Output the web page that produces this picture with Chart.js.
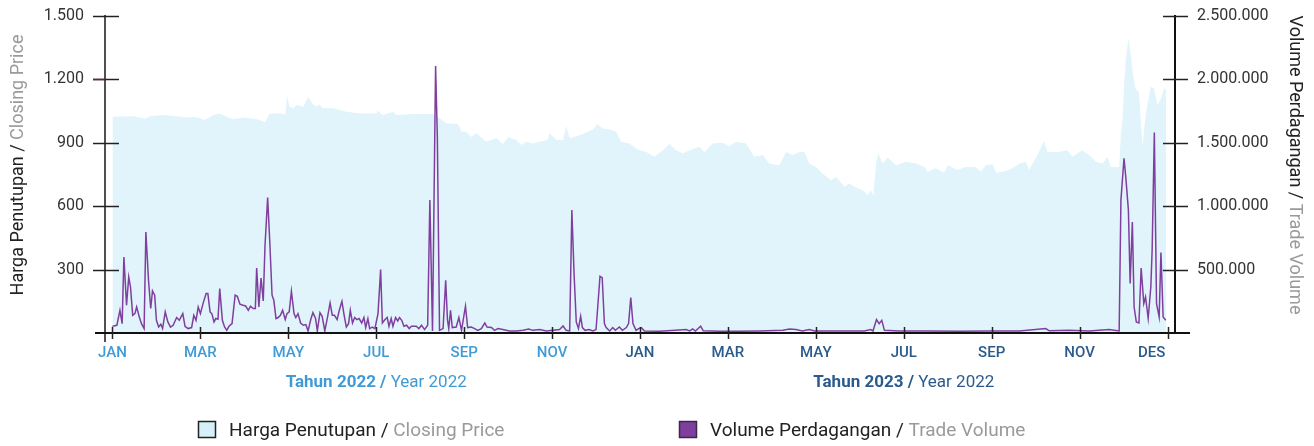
<!DOCTYPE html>
<html>
<head>
<meta charset="utf-8">
<script src="https://cdn.jsdelivr.net/npm/chart.js@4.4.1/dist/chart.umd.min.js"></script>
<style>
  html, body { margin: 0; padding: 0; background: #ffffff; }
  #wrap { width: 1314px; height: 446px; position: relative; }
</style>
</head>
<body>
<div id="wrap"><canvas id="c" width="1314" height="446"></canvas></div>
<script>
// ---------- DATA ----------
// x positions are in months since 1 Jan 2022 (0 = JAN 2022, 24 = end of DEC 2023)
const monthLabels = ['JAN','MAR','MAY','JUL','SEP','NOV','JAN','MAR','MAY','JUL','SEP','NOV','DES'];
const monthLabelPos = [0,2,4,6,8,10,12,14,16,18,20,22,23.64];
const monthTickMarks = [0,2,4,6,8,10,12,14,16,18,20,22,24];
const priceTicks = [300,600,900,1200,1500];
const volumeTicks = [500000,1000000,1500000,2000000,2500000];

const priceX = [
  0.00,0.47,0.74,0.85,1.15,1.46,1.69,1.84,1.99,2.10,
  2.29,2.43,2.60,2.75,2.97,3.28,3.47,3.58,3.88,3.93,
  3.97,4.03,4.11,4.19,4.34,4.45,4.56,4.64,4.70,4.79,
  5.02,5.32,5.63,6.00,6.04,6.15,6.38,6.46,6.84,7.14,
  7.29,7.44,7.60,7.86,7.94,8.05,8.16,8.28,8.50,8.73,
  8.88,9.00,9.19,9.30,9.41,9.56,9.72,9.90,9.94,10.10,
  10.25,10.32,10.40,10.63,10.93,11.03,11.15,11.31,11.46,11.57,
  11.76,11.91,11.99,12.14,12.33,12.52,12.67,12.82,12.97,13.13,
  13.35,13.47,13.65,13.88,14.03,14.19,14.41,14.60,14.79,14.94,
  15.17,15.32,15.47,15.63,15.74,15.85,16.00,16.15,16.35,16.46,
  16.65,16.76,16.91,17.06,17.18,17.25,17.31,17.37,17.42,17.52,
  17.63,17.82,18.05,18.28,18.47,18.54,18.73,18.92,19.00,19.22,
  19.41,19.64,19.75,19.87,20.02,20.10,20.32,20.47,20.63,20.78,
  20.85,21.04,21.19,21.27,21.53,21.72,21.84,22.06,22.22,22.37,
  22.52,22.63,22.71,22.90,22.94,22.97,23.01,23.05,23.11,23.16,
  23.22,23.28,23.35,23.39,23.43,23.49,23.54,23.62,23.69,23.77,
  23.85,23.92,23.97
];
const priceY = [
  1023,1026,1014,1026,1031,1026,1020,1023,1016,1008,
  1031,1039,1023,1011,1020,1011,999,1039,1039,1031,
  1121,1071,1063,1079,1071,1118,1083,1071,1083,1063,
  1063,1047,1039,1039,1052,1031,1047,1031,1036,1036,
  1036,1016,992,989,952,952,928,945,905,921,
  894,926,913,889,905,897,905,913,945,913,
  913,979,921,936,963,989,968,963,952,905,
  897,873,865,857,834,865,894,865,850,865,
  881,857,897,900,884,905,897,834,842,802,
  794,857,842,857,857,802,786,755,723,739,
  692,708,689,677,652,676,652,802,850,802,
  831,794,810,802,786,763,779,758,794,771,
  786,786,763,794,799,758,767,779,802,810,
  771,842,909,857,857,865,834,865,842,810,
  802,834,786,786,945,992,1165,1292,1395,1324,
  1213,1150,1142,1008,881,1008,1079,1165,1158,1079,
  1110,1158,1150
];

const volumeX = [
  0.00,0.10,0.17,0.22,0.26,0.32,0.37,0.41,0.46,0.51,
  0.55,0.61,0.66,0.72,0.76,0.82,0.87,0.91,0.96,1.00,
  1.05,1.10,1.14,1.20,1.26,1.32,1.38,1.46,1.52,1.60,
  1.65,1.72,1.80,1.85,1.90,1.95,2.00,2.06,2.13,2.17,
  2.22,2.26,2.31,2.35,2.40,2.44,2.50,2.55,2.60,2.65,
  2.72,2.79,2.84,2.90,2.97,3.03,3.09,3.14,3.20,3.25,
  3.28,3.33,3.38,3.43,3.47,3.53,3.58,3.63,3.67,3.72,
  3.77,3.82,3.87,3.93,3.97,4.02,4.07,4.13,4.17,4.22,
  4.28,4.34,4.40,4.45,4.51,4.56,4.62,4.66,4.72,4.77,
  4.83,4.89,4.95,5.00,5.05,5.11,5.16,5.22,5.27,5.32,
  5.37,5.41,5.46,5.51,5.56,5.61,5.67,5.72,5.76,5.81,
  5.85,5.91,5.97,6.04,6.10,6.14,6.20,6.25,6.29,6.34,
  6.38,6.44,6.49,6.53,6.58,6.63,6.69,6.75,6.80,6.85,
  6.91,6.97,7.03,7.10,7.17,7.22,7.28,7.35,7.39,7.44,
  7.52,7.58,7.62,7.65,7.69,7.73,7.82,7.88,7.94,8.03,
  8.08,8.16,8.24,8.31,8.39,8.47,8.52,8.62,8.69,8.77,
  8.88,9.03,9.19,9.34,9.47,9.56,9.72,9.87,10.02,10.17,
  10.25,10.32,10.40,10.45,10.50,10.55,10.60,10.65,10.69,10.75,
  10.84,10.93,11.00,11.05,11.09,11.14,11.19,11.23,11.31,11.38,
  11.44,11.53,11.60,11.69,11.74,11.79,11.84,11.91,11.97,12.03,
  12.10,12.44,12.80,13.05,13.13,13.20,13.26,13.38,13.44,13.81,
  14.26,14.72,15.25,15.40,15.55,15.69,15.85,15.97,16.53,17.10,
  17.25,17.30,17.38,17.44,17.50,17.56,17.90,18.58,19.26,19.94,
  20.63,21.23,21.31,21.76,22.22,22.67,22.90,22.94,23.01,23.05,
  23.11,23.15,23.20,23.24,23.29,23.35,23.40,23.46,23.50,23.56,
  23.62,23.65,23.70,23.75,23.81,23.85,23.90,23.96
];
const volumeY = [
  53000,61000,179000,74000,600000,219000,442000,363000,140000,153000,
  205000,126000,74000,35000,797000,416000,193000,332000,298000,100000,
  47000,69000,35000,166000,87000,47000,61000,122000,100000,153000,
  53000,35000,43000,140000,100000,205000,153000,232000,311000,311000,
  166000,153000,87000,114000,108000,350000,100000,47000,21000,53000,
  74000,298000,290000,227000,219000,213000,179000,211000,193000,193000,
  513000,205000,434000,253000,692000,1069000,706000,298000,258000,114000,
  122000,140000,179000,106000,153000,166000,329000,153000,122000,153000,
  79000,61000,66000,16000,106000,161000,114000,16000,161000,132000,
  16000,122000,237000,140000,140000,106000,179000,250000,140000,47000,
  74000,179000,79000,122000,106000,114000,79000,122000,43000,114000,
  35000,47000,35000,153000,500000,79000,106000,122000,53000,114000,
  53000,122000,95000,122000,100000,53000,61000,35000,53000,53000,
  53000,35000,61000,27000,61000,1048000,16000,2105000,1547000,21000,
  35000,416000,106000,35000,179000,43000,47000,122000,21000,211000,
  43000,47000,35000,21000,35000,79000,47000,43000,21000,35000,
  27000,16000,16000,21000,32000,21000,27000,16000,21000,27000,
  55000,21000,16000,969000,469000,87000,35000,132000,43000,21000,
  27000,16000,27000,258000,448000,437000,74000,43000,16000,43000,
  21000,47000,21000,43000,74000,279000,74000,21000,35000,43000,
  16000,13000,21000,27000,16000,32000,16000,53000,17000,13000,
  13000,16000,21000,32000,27000,16000,27000,16000,16000,16000,
  27000,16000,106000,74000,100000,21000,16000,16000,13000,16000,
  16000,35000,17000,21000,16000,27000,16000,1048000,1377000,1231000,
  969000,390000,876000,205000,87000,79000,513000,232000,284000,114000,
  363000,653000,1582000,232000,126000,635000,126000,100000
];

// ---------- STYLE ----------
const C_PRICE_FILL = '#e1f4fb';
const C_VOLUME = '#7f3f9e';
const C_2022 = '#3f9ad6';
const C_2023 = '#2b5b8c';
const FONT = 'Roboto, "Liberation Sans", sans-serif';

function fmt(v) {
  return String(Math.round(v)).replace(/\B(?=(\d{3})+(?!\d))/g, '.');
}

const priceData = priceX.map((x, i) => ({ x: x, y: priceY[i] }));
const volumeData = volumeX.map((x, i) => ({ x: x, y: volumeY[i] }));

const CHART_BOTTOM = 333;

const decor = {
  id: 'decor',
  afterDatasetsDraw(chart) {
    const { ctx, chartArea: a, scales } = chart;
    const x = scales.x, y = scales.y, y1 = scales.y1;
    const y0 = y.getPixelForValue(0);
    const yTop = y.getPixelForValue(1500);
    ctx.save();
    ctx.lineCap = 'butt';
    const seg = (x1, yA, x2, yB) => { ctx.beginPath(); ctx.moveTo(x1, yA); ctx.lineTo(x2, yB); ctx.stroke(); };
    // left axis
    ctx.strokeStyle = '#505050'; ctx.lineWidth = 2;
    seg(a.left, yTop - 1, a.left, y0 + 9);
    // right axis
    ctx.strokeStyle = '#111'; ctx.lineWidth = 2;
    seg(a.right, yTop - 1, a.right, y0);
    // x axis
    seg(a.left - 10, y0, a.right + 15, y0);
    // y ticks
    ctx.lineWidth = 1.5;
    priceTicks.forEach(v => {
      const py = Math.round(y.getPixelForValue(v)) + 0.5;
      ctx.strokeStyle = '#222';
      seg(a.left - 12, py, a.left + 14, py);
      if (v === 1200) { ctx.strokeStyle = '#6e1f3c'; seg(a.left - 12, py, a.left, py); }
    });
    ctx.strokeStyle = '#222';
    volumeTicks.forEach(v => {
      const py = Math.round(y1.getPixelForValue(v)) + 0.5;
      seg(a.right - 12, py, a.right + 13, py);
    });
    monthTickMarks.forEach(v => {
      const px = Math.round(x.getPixelForValue(v)) + 0.5;
      seg(px, y0 - 6, px, y0 + 6);
    });
    ctx.restore();
  },
  afterDraw(chart) {
    const { ctx, scales } = chart;
    const x = scales.x;
    ctx.save();
    const twoTone = (cx, cy, p1, f1, c1, p2, f2, c2) => {
      ctx.font = f1; const w1 = ctx.measureText(p1).width;
      ctx.font = f2; const w2 = ctx.measureText(p2).width;
      let sx = cx - (w1 + w2) / 2;
      ctx.textAlign = 'left'; ctx.textBaseline = 'middle';
      ctx.font = f1; ctx.fillStyle = c1; ctx.fillText(p1, sx, cy);
      ctx.font = f2; ctx.fillStyle = c2; ctx.fillText(p2, sx + w1, cy);
    };
    // left axis title
    ctx.save();
    ctx.translate(18, 165); ctx.rotate(-Math.PI / 2);
    twoTone(0, 0, 'Harga Penutupan / ', '18px ' + FONT, '#222', 'Closing Price', '18px ' + FONT, '#9a9a9a');
    ctx.restore();
    // right axis title
    ctx.save();
    ctx.translate(1294, 165); ctx.rotate(Math.PI / 2);
    twoTone(0, 0, 'Volume Perdagangan / ', '18px ' + FONT, '#222', 'Trade Volume', '18px ' + FONT, '#9a9a9a');
    ctx.restore();
    // year titles
    twoTone(x.getPixelForValue(6), 383, 'Tahun 2022 / ', 'bold 17px ' + FONT, C_2022, 'Year 2022', '17px ' + FONT, C_2022);
    twoTone(x.getPixelForValue(18), 383, 'Tahun 2023 / ', 'bold 17px ' + FONT, C_2023, 'Year 2022', '17px ' + FONT, C_2023);
    // legend
    const legend = [
      { bx: 198, fill: '#d6f0fa', stroke: '#222', t1: 'Harga Penutupan / ', t2: 'Closing Price' },
      { bx: 679, fill: '#7f3f9e', stroke: '#3a2a45', t1: 'Volume Perdagangan / ', t2: 'Trade Volume' }
    ];
    legend.forEach(l => {
      ctx.fillStyle = l.fill; ctx.strokeStyle = l.stroke; ctx.lineWidth = 1.5;
      ctx.fillRect(l.bx, 421, 18, 17);
      ctx.strokeRect(l.bx + 0.5, 421.5, 17, 16);
      ctx.font = '19px ' + FONT;
      ctx.textAlign = 'left'; ctx.textBaseline = 'middle';
      ctx.fillStyle = '#222'; ctx.fillText(l.t1, l.bx + 31, 431);
      const w = ctx.measureText(l.t1).width;
      ctx.fillStyle = '#9a9a9a'; ctx.fillText(l.t2, l.bx + 31 + w, 431);
    });
    ctx.restore();
  }
};

new Chart(document.getElementById('c'), {
  type: 'line',
  data: {
    datasets: [
      {
        label: 'Volume Perdagangan / Trade Volume',
        data: volumeData,
        yAxisID: 'y1',
        borderColor: C_VOLUME,
        borderWidth: 1.5,
        pointRadius: 0,
        tension: 0,
        fill: false,
        order: 0
      },
      {
        label: 'Harga Penutupan / Closing Price',
        data: priceData,
        yAxisID: 'y',
        borderWidth: 0,
        borderColor: 'rgba(0,0,0,0)',
        backgroundColor: C_PRICE_FILL,
        pointRadius: 0,
        tension: 0,
        fill: 'origin',
        order: 1
      }
    ]
  },
  options: {
    responsive: false,
    animation: false,
    devicePixelRatio: 1,
    layout: { padding: { top: 16, left: 0, right: 0, bottom: 0 } },
    plugins: { legend: { display: false }, tooltip: { enabled: false } },
    scales: {
      x: {
        type: 'linear',
        min: -0.17,
        max: 24.17,
        grid: { display: false, drawTicks: false },
        border: { display: false },
        afterFit(s) { s.height = 446 - CHART_BOTTOM; s.paddingLeft = 0; s.paddingRight = 0; },
        afterBuildTicks(s) { s.ticks = monthLabelPos.map(v => ({ value: v })); },
        ticks: {
          autoSkip: false,
          maxRotation: 0,
          padding: 11,
          font: { family: FONT, size: 15, weight: '500' },
          color: (c) => (c.index < 6 ? C_2022 : C_2023),
          callback: (v, i) => monthLabels[i]
        }
      },
      y: {
        position: 'left',
        min: 0,
        max: 1500,
        grid: { display: false, drawTicks: false },
        border: { display: false },
        afterFit(s) { s.width = 105; s.paddingTop = 0; s.paddingBottom = 0; },
        afterBuildTicks(s) { s.ticks = [0].concat(priceTicks).map(v => ({ value: v })); },
        ticks: {
          padding: 21,
          font: { family: FONT, size: 16 },
          color: '#333',
          callback: (v) => (v === 0 ? '' : fmt(v))
        }
      },
      y1: {
        position: 'right',
        min: 0,
        max: 2500000,
        grid: { display: false, drawTicks: false },
        border: { display: false },
        afterFit(s) { s.width = 1314 - 1175; s.paddingTop = 0; s.paddingBottom = 0; },
        afterBuildTicks(s) { s.ticks = [0].concat(volumeTicks).map(v => ({ value: v })); },
        ticks: {
          padding: 22,
          font: { family: FONT, size: 16 },
          color: '#333',
          callback: (v) => (v === 0 ? '' : fmt(v))
        }
      }
    }
  },
  plugins: [decor]
});
</script>
</body>
</html>
